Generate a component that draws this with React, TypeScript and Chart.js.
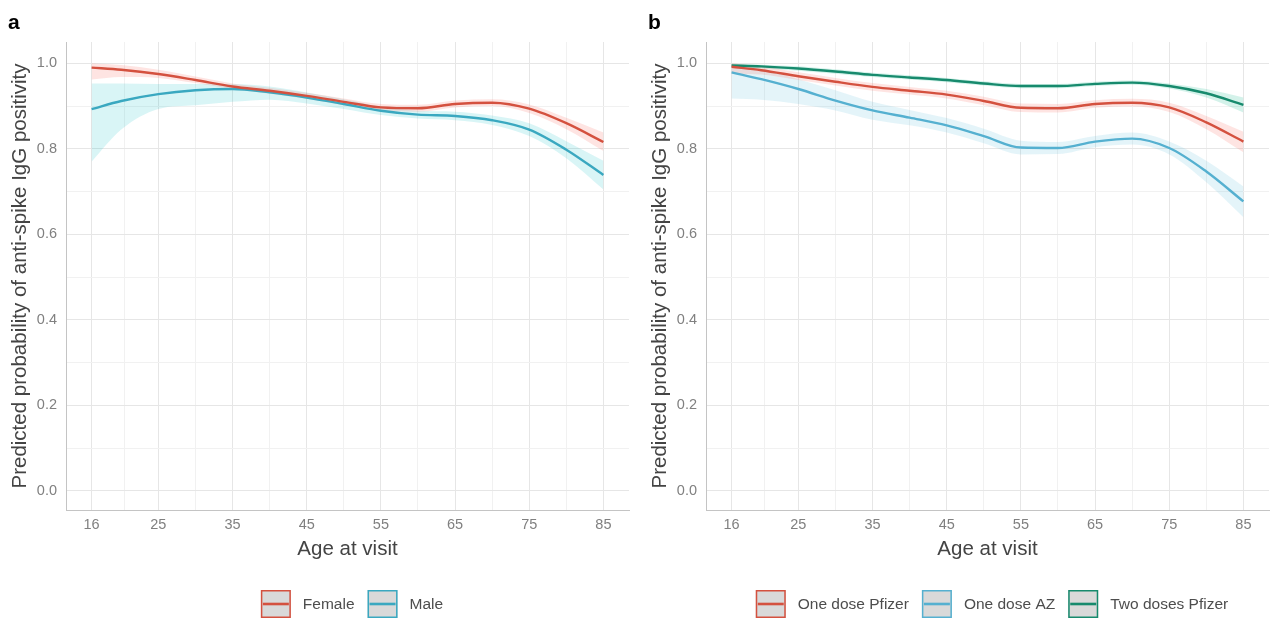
import React, { useEffect, useRef } from "react";
import { Chart, registerables } from "chart.js";
Chart.register(...registerables);

// ---------- data ----------
const AGES = [16, 20, 25, 30, 35, 40, 45, 50, 55, 60, 65, 70, 75, 80, 85];

// Panel a
const FEMALE = [0.99, 0.985, 0.975, 0.961, 0.946, 0.936, 0.924, 0.91, 0.897, 0.895, 0.905, 0.908, 0.894, 0.86, 0.816];
const FEMALE_LO = [0.962, 0.968, 0.966, 0.954, 0.94, 0.929, 0.917, 0.902, 0.889, 0.887, 0.897, 0.9, 0.884, 0.846, 0.795];
const FEMALE_HI = [1.0, 0.996, 0.985, 0.969, 0.953, 0.943, 0.931, 0.918, 0.905, 0.903, 0.913, 0.916, 0.904, 0.873, 0.838];
const MALE = [0.893, 0.912, 0.928, 0.937, 0.94, 0.932, 0.92, 0.905, 0.889, 0.88, 0.877, 0.867, 0.845, 0.798, 0.739];
const MALE_LO = [0.77, 0.845, 0.893, 0.902, 0.91, 0.915, 0.906, 0.893, 0.879, 0.871, 0.867, 0.856, 0.83, 0.778, 0.705];
const MALE_HI = [0.953, 0.953, 0.952, 0.952, 0.952, 0.946, 0.932, 0.916, 0.899, 0.889, 0.887, 0.878, 0.86, 0.818, 0.772];

// Panel b
const PFIZER1 = [0.992, 0.984, 0.97, 0.957, 0.945, 0.936, 0.927, 0.912, 0.896, 0.895, 0.905, 0.908, 0.897, 0.862, 0.817];
const PFIZER1_LO = [0.976, 0.974, 0.961, 0.948, 0.936, 0.927, 0.918, 0.902, 0.886, 0.885, 0.896, 0.899, 0.886, 0.846, 0.792];
const PFIZER1_HI = [1.0, 0.993, 0.979, 0.966, 0.954, 0.945, 0.936, 0.922, 0.906, 0.905, 0.914, 0.917, 0.908, 0.877, 0.84];
const AZ1 = [0.979, 0.963, 0.94, 0.913, 0.89, 0.873, 0.855, 0.83, 0.803, 0.802, 0.817, 0.824, 0.802, 0.747, 0.677];
const AZ1_LO = [0.918, 0.915, 0.905, 0.89, 0.868, 0.855, 0.838, 0.813, 0.787, 0.788, 0.804, 0.81, 0.787, 0.722, 0.64];
const AZ1_HI = [0.995, 0.985, 0.963, 0.937, 0.91, 0.891, 0.872, 0.847, 0.819, 0.816, 0.83, 0.838, 0.817, 0.772, 0.712];
const PFIZER2 = [0.995, 0.993, 0.988, 0.981, 0.973, 0.967, 0.961, 0.953, 0.947, 0.947, 0.952, 0.955, 0.947, 0.93, 0.903];
const PFIZER2_LO = [0.99, 0.988, 0.983, 0.976, 0.968, 0.962, 0.956, 0.948, 0.942, 0.942, 0.947, 0.95, 0.941, 0.92, 0.885];
const PFIZER2_HI = [0.999, 0.997, 0.993, 0.986, 0.978, 0.972, 0.966, 0.958, 0.952, 0.952, 0.957, 0.96, 0.953, 0.94, 0.92];

const X_MAJOR = [16, 25, 35, 45, 55, 65, 75, 85];
const X_MINOR = [20.5, 30, 40, 50, 60, 70, 80];
const Y_TICKS = [0, 0.1, 0.2, 0.3, 0.4, 0.5, 0.6, 0.7, 0.8, 0.9, 1.0];

const X_TITLE = "Age at visit";
const Y_TITLE = "Predicted probability of anti-spike IgG positivity";

const FONT = "'Liberation Sans', Arial, Helvetica, sans-serif";

type Series = {
  name: string;
  mid: number[];
  lo: number[];
  hi: number[];
  color: string;
  band: string;
};

const PANEL_A: Series[] = [
  { name: "Female", mid: FEMALE, lo: FEMALE_LO, hi: FEMALE_HI, color: "#d4513f", band: "rgba(248,118,109,0.2)" },
  { name: "Male", mid: MALE, lo: MALE_LO, hi: MALE_HI, color: "#3aa8c0", band: "rgba(0,191,196,0.15)" },
];
const PANEL_B: Series[] = [
  { name: "One dose Pfizer", mid: PFIZER1, lo: PFIZER1_LO, hi: PFIZER1_HI, color: "#d4513f", band: "rgba(248,118,109,0.2)" },
  { name: "One dose AZ", mid: AZ1, lo: AZ1_LO, hi: AZ1_HI, color: "#55b0d0", band: "rgba(97,190,222,0.17)" },
  { name: "Two doses Pfizer", mid: PFIZER2, lo: PFIZER2_LO, hi: PFIZER2_HI, color: "#178a6d", band: "rgba(40,190,150,0.2)" },
];

const pts = (ys: number[]) => AGES.map((a, i) => ({ x: a, y: ys[i] }));

function Panel({ label, series }: { label: string; series: Series[] }) {
  const ref = useRef<HTMLCanvasElement>(null);
  useEffect(() => {
    if (!ref.current) return;
    const datasets: any[] = [];
    series.forEach((s) => {
      datasets.push({
        label: s.name + " upper",
        data: pts(s.hi),
        borderWidth: 0,
        pointRadius: 0,
        fill: false,
        cubicInterpolationMode: "monotone",
        order: 2,
      });
      datasets.push({
        label: s.name + " lower",
        data: pts(s.lo),
        borderWidth: 0,
        pointRadius: 0,
        fill: "-1",
        backgroundColor: s.band,
        cubicInterpolationMode: "monotone",
        order: 2,
      });
    });
    series.forEach((s) => {
      datasets.push({
        label: s.name,
        data: pts(s.mid),
        borderColor: s.color,
        borderWidth: 2.4,
        pointRadius: 0,
        fill: false,
        cubicInterpolationMode: "monotone",
        order: 1,
      });
    });

    const legendPlugin = {
      id: "customLegend",
      afterDraw(chart: any) {
        const ctx = chart.ctx;
        ctx.save();
        // panel label
        ctx.font = `bold 21px ${FONT}`;
        ctx.fillStyle = "#000";
        ctx.textAlign = "left";
        ctx.textBaseline = "alphabetic";
        ctx.fillText(label, 8, 29);
        // legend
        ctx.font = `15.5px ${FONT}`;
        const boxW = 30, boxH = 28, gapText = 12, gapItem = 13;
        const widths = series.map((s) => ctx.measureText(s.name).width);
        let total = 0;
        widths.forEach((w, i) => {
          total += boxW + gapText + w + (i < widths.length - 1 ? gapItem : 0);
        });
        let x = 352 - total / 2;
        const top = 590;
        series.forEach((s, i) => {
          ctx.fillStyle = "#d9d9d9";
          ctx.fillRect(x, top, boxW, boxH);
          ctx.strokeStyle = s.color;
          ctx.lineWidth = 1.5;
          ctx.strokeRect(x + 0.75, top + 0.75, boxW - 1.5, boxH - 1.5);
          ctx.beginPath();
          ctx.moveTo(x + 2, top + boxH / 2);
          ctx.lineTo(x + boxW - 2, top + boxH / 2);
          ctx.lineWidth = 2.6;
          ctx.stroke();
          ctx.fillStyle = "#4d4d4d";
          ctx.textBaseline = "middle";
          ctx.fillText(s.name, x + boxW + gapText, top + boxH / 2 + 1);
          x += boxW + gapText + widths[i] + gapItem;
        });
        ctx.restore();
      },
    };

    const chart = new Chart(ref.current, {
      type: "line",
      data: { datasets },
      options: {
        animation: false,
        responsive: false,
        events: [],
        layout: { padding: { top: 42, right: 11, bottom: 57, left: 0 } },
        plugins: { legend: { display: false }, tooltip: { enabled: false } },
        scales: {
          x: {
            type: "linear",
            min: 12.55,
            max: 88.45,
            afterBuildTicks: (scale: any) => {
              scale.ticks = [...X_MAJOR, ...X_MINOR].sort((a, b) => a - b).map((v) => ({ value: v }));
            },
            afterFit: (scale: any) => {
              scale.height = 60;
            },
            ticks: {
              autoSkip: false,
              maxRotation: 0,
              padding: 6,
              color: "#808080",
              font: { family: FONT, size: 14.5 },
              callback: (v: any) => (X_MAJOR.includes(Number(v)) ? String(v) : ""),
            },
            grid: {
              drawTicks: false,
              color: (c: any) => (c.tick && X_MAJOR.includes(c.tick.value) ? "#e6e6e6" : "#f1f1f1"),
              lineWidth: 1,
            },
            border: { display: true, color: "#c4c4c4", width: 1 },
            title: {
              display: true,
              text: X_TITLE,
              color: "#444444",
              font: { family: FONT, size: 20.5 },
              padding: { top: 0, bottom: 8.5 },
            },
          },
          y: {
            type: "linear",
            min: -0.045,
            max: 1.05,
            afterBuildTicks: (scale: any) => {
              scale.ticks = Y_TICKS.map((v) => ({ value: v }));
            },
            afterFit: (scale: any) => {
              scale.width = 66;
            },
            ticks: {
              autoSkip: false,
              padding: 9,
              color: "#808080",
              font: { family: FONT, size: 14.5 },
              callback: (v: any) => (Math.round(Number(v) * 10) % 2 === 0 ? Number(v).toFixed(1) : ""),
            },
            grid: {
              drawTicks: false,
              color: (c: any) =>
                c.tick && Math.round(c.tick.value * 10) % 2 === 0 ? "#e6e6e6" : "#f1f1f1",
              lineWidth: 1,
            },
            border: { display: true, color: "#c4c4c4", width: 1 },
            title: {
              display: true,
              text: Y_TITLE,
              color: "#444444",
              font: { family: FONT, size: 20.5 },
              padding: { top: 8, bottom: 0 },
            },
          },
        },
      },
      plugins: [legendPlugin],
    } as any);
    return () => chart.destroy();
  }, [label, series]);
  return <canvas ref={ref} width={640} height={627} style={{ display: "block", width: 640, height: 627 }} />;
}

export default function App() {
  return (
    <div
      style={{
        position: "fixed",
        left: 0,
        top: 0,
        width: 1280,
        height: 627,
        background: "#ffffff",
        display: "flex",
      }}
    >
      <Panel label="a" series={PANEL_A} />
      <Panel label="b" series={PANEL_B} />
    </div>
  );
}
